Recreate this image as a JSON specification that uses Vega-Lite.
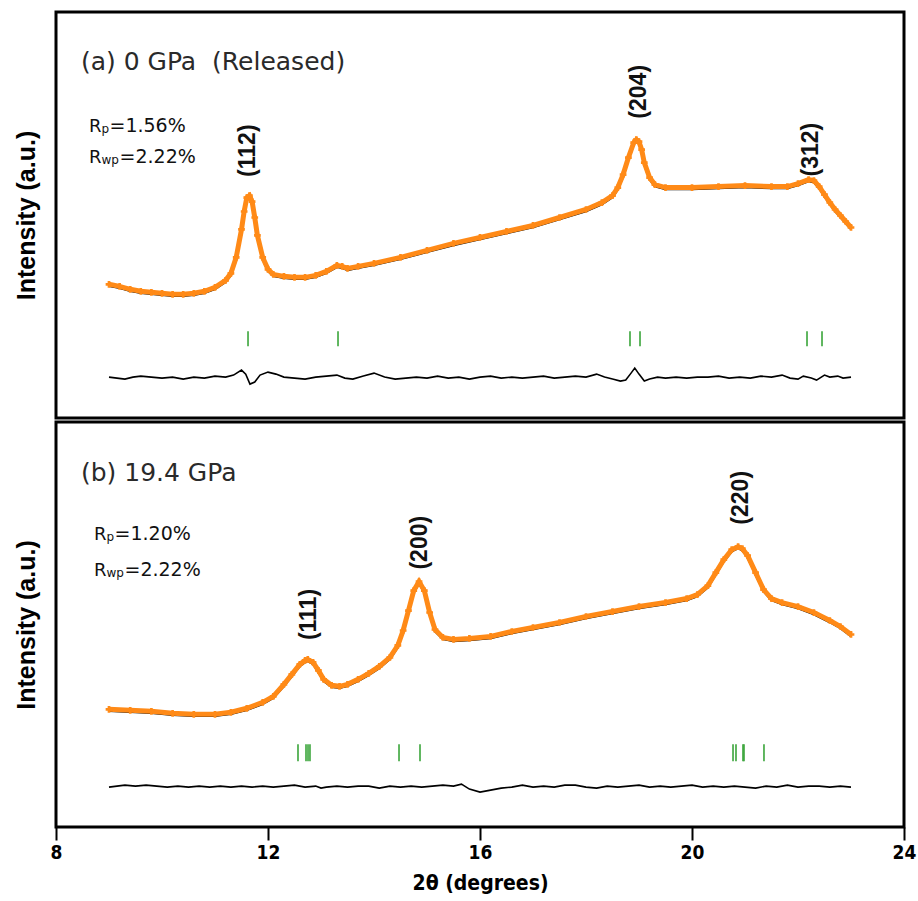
{
  "$schema": "https://vega.github.io/schema/vega-lite/v6.json",
  "background": "white",
  "padding": {"left": 12, "top": 10, "right": 12, "bottom": 5},
  "spacing": 0,
  "config": {
    "view": {"stroke": "black", "strokeWidth": 3},
    "font": "Liberation Sans",
    "axis": {"grid": false},
    "axisY": {"labels": false, "ticks": false, "domain": false, "titleFontSize": 25, "titleFontWeight": "bold", "titleFont": "Liberation Sans", "titleColor": "black", "titlePadding": 17}
  },
  "datasets": {
    "a_obs": [
      {"x": 9.0, "y": 134}, {"x": 9.2, "y": 132}, {"x": 9.4, "y": 129}, {"x": 9.6, "y": 127}, {"x": 9.8, "y": 126},
      {"x": 10.0, "y": 125}, {"x": 10.2, "y": 124}, {"x": 10.4, "y": 124}, {"x": 10.6, "y": 125}, {"x": 10.8, "y": 127},
      {"x": 11.0, "y": 131}, {"x": 11.2, "y": 138}, {"x": 11.3, "y": 145}, {"x": 11.4, "y": 161}, {"x": 11.5, "y": 189},
      {"x": 11.55, "y": 207}, {"x": 11.6, "y": 221}, {"x": 11.65, "y": 223}, {"x": 11.7, "y": 217}, {"x": 11.75, "y": 201},
      {"x": 11.8, "y": 183}, {"x": 11.9, "y": 161}, {"x": 12.0, "y": 149}, {"x": 12.1, "y": 144}, {"x": 12.3, "y": 142},
      {"x": 12.5, "y": 141}, {"x": 12.7, "y": 141}, {"x": 12.9, "y": 143}, {"x": 13.1, "y": 147}, {"x": 13.3, "y": 153},
      {"x": 13.4, "y": 152}, {"x": 13.5, "y": 150}, {"x": 13.7, "y": 152}, {"x": 14.0, "y": 155}, {"x": 14.5, "y": 161},
      {"x": 15.0, "y": 168}, {"x": 15.5, "y": 175}, {"x": 16.0, "y": 181}, {"x": 16.5, "y": 187}, {"x": 17.0, "y": 193},
      {"x": 17.5, "y": 201}, {"x": 18.0, "y": 209}, {"x": 18.3, "y": 216}, {"x": 18.5, "y": 223}, {"x": 18.6, "y": 231},
      {"x": 18.7, "y": 244}, {"x": 18.8, "y": 261}, {"x": 18.9, "y": 276}, {"x": 18.95, "y": 279}, {"x": 19.0, "y": 277},
      {"x": 19.05, "y": 269}, {"x": 19.1, "y": 256}, {"x": 19.2, "y": 241}, {"x": 19.3, "y": 234}, {"x": 19.5, "y": 231},
      {"x": 20.0, "y": 231}, {"x": 20.5, "y": 232}, {"x": 21.0, "y": 233}, {"x": 21.5, "y": 232}, {"x": 21.8, "y": 232},
      {"x": 22.0, "y": 235}, {"x": 22.2, "y": 239}, {"x": 22.3, "y": 238}, {"x": 22.4, "y": 232}, {"x": 22.5, "y": 224},
      {"x": 22.6, "y": 216}, {"x": 22.7, "y": 209}, {"x": 22.8, "y": 203}, {"x": 22.9, "y": 197}, {"x": 23.0, "y": 191}
    ],
    "a_diff": [
      {"x": 9.0, "y": 41}, {"x": 9.15, "y": 40}, {"x": 9.3, "y": 39}, {"x": 9.45, "y": 41}, {"x": 9.6, "y": 42},
      {"x": 9.8, "y": 41}, {"x": 10.0, "y": 40}, {"x": 10.2, "y": 41}, {"x": 10.4, "y": 39}, {"x": 10.6, "y": 41},
      {"x": 10.8, "y": 40}, {"x": 11.0, "y": 42}, {"x": 11.2, "y": 41}, {"x": 11.35, "y": 43}, {"x": 11.5, "y": 48},
      {"x": 11.58, "y": 44}, {"x": 11.66, "y": 34}, {"x": 11.75, "y": 36}, {"x": 11.85, "y": 43}, {"x": 12.0, "y": 46},
      {"x": 12.15, "y": 44}, {"x": 12.3, "y": 41}, {"x": 12.5, "y": 40}, {"x": 12.7, "y": 39}, {"x": 12.9, "y": 41},
      {"x": 13.1, "y": 42}, {"x": 13.3, "y": 43}, {"x": 13.45, "y": 40}, {"x": 13.6, "y": 39}, {"x": 13.8, "y": 42},
      {"x": 14.0, "y": 45}, {"x": 14.2, "y": 41}, {"x": 14.4, "y": 39}, {"x": 14.6, "y": 40}, {"x": 14.8, "y": 41},
      {"x": 15.0, "y": 40}, {"x": 15.2, "y": 42}, {"x": 15.4, "y": 40}, {"x": 15.6, "y": 41}, {"x": 15.8, "y": 39},
      {"x": 16.0, "y": 41}, {"x": 16.2, "y": 42}, {"x": 16.4, "y": 40}, {"x": 16.6, "y": 41}, {"x": 16.8, "y": 40},
      {"x": 17.0, "y": 41}, {"x": 17.2, "y": 42}, {"x": 17.4, "y": 40}, {"x": 17.6, "y": 41}, {"x": 17.8, "y": 42},
      {"x": 18.0, "y": 41}, {"x": 18.2, "y": 44}, {"x": 18.35, "y": 41}, {"x": 18.5, "y": 39}, {"x": 18.65, "y": 37},
      {"x": 18.75, "y": 38}, {"x": 18.85, "y": 45}, {"x": 18.92, "y": 50}, {"x": 19.0, "y": 44}, {"x": 19.1, "y": 37},
      {"x": 19.2, "y": 39}, {"x": 19.35, "y": 41}, {"x": 19.5, "y": 40}, {"x": 19.7, "y": 41}, {"x": 19.9, "y": 40},
      {"x": 20.1, "y": 41}, {"x": 20.3, "y": 41}, {"x": 20.5, "y": 42}, {"x": 20.7, "y": 40}, {"x": 20.9, "y": 41},
      {"x": 21.1, "y": 40}, {"x": 21.3, "y": 42}, {"x": 21.5, "y": 41}, {"x": 21.7, "y": 43}, {"x": 21.85, "y": 40},
      {"x": 22.0, "y": 39}, {"x": 22.1, "y": 42}, {"x": 22.25, "y": 40}, {"x": 22.35, "y": 38}, {"x": 22.5, "y": 43},
      {"x": 22.6, "y": 41}, {"x": 22.75, "y": 42}, {"x": 22.85, "y": 40}, {"x": 23.0, "y": 41}
    ],
    "a_ticks": [
      {"x": 11.623}, {"x": 13.321}, {"x": 18.83}, {"x": 19.019}, {"x": 22.17}, {"x": 22.453}
    ],
    "a_title": [{"x": 8.47, "y": 357, "label": "(a) 0 GPa\u00a0 (Released)"}],
    "a_R": [{"x": 8.623, "y": 287, "label": "R"}, {"x": 8.623, "y": 256, "label": "R"}],
    "a_sub": [{"x": 8.858, "y": 287, "label": "p"}, {"x": 8.858, "y": 256, "label": "wp"}],
    "a_val": [{"x": 9.009, "y": 287, "label": "=1.56%"}, {"x": 9.198, "y": 256, "label": "=2.22%"}],
    "a_peaks": [
      {"x": 11.623, "y": 268, "label": "(112)"},
      {"x": 19.0, "y": 327, "label": "(204)"},
      {"x": 22.245, "y": 269, "label": "(312)"}
    ],
    "b_obs": [
      {"x": 9.0, "y": 118}, {"x": 9.4, "y": 117}, {"x": 9.8, "y": 116}, {"x": 10.2, "y": 114}, {"x": 10.6, "y": 113},
      {"x": 11.0, "y": 113}, {"x": 11.3, "y": 115}, {"x": 11.6, "y": 119}, {"x": 11.9, "y": 125}, {"x": 12.1, "y": 131},
      {"x": 12.3, "y": 143}, {"x": 12.45, "y": 153}, {"x": 12.6, "y": 163}, {"x": 12.7, "y": 167}, {"x": 12.75, "y": 168},
      {"x": 12.85, "y": 165}, {"x": 12.95, "y": 157}, {"x": 13.05, "y": 148}, {"x": 13.2, "y": 142}, {"x": 13.35, "y": 141},
      {"x": 13.5, "y": 143}, {"x": 13.7, "y": 148}, {"x": 13.9, "y": 154}, {"x": 14.1, "y": 161}, {"x": 14.3, "y": 170},
      {"x": 14.45, "y": 182}, {"x": 14.55, "y": 197}, {"x": 14.65, "y": 217}, {"x": 14.75, "y": 237}, {"x": 14.85, "y": 246},
      {"x": 14.95, "y": 237}, {"x": 15.05, "y": 215}, {"x": 15.15, "y": 198}, {"x": 15.3, "y": 190}, {"x": 15.5, "y": 188},
      {"x": 15.8, "y": 189}, {"x": 16.2, "y": 191}, {"x": 16.6, "y": 196}, {"x": 17.0, "y": 200}, {"x": 17.5, "y": 205},
      {"x": 18.0, "y": 211}, {"x": 18.5, "y": 216}, {"x": 19.0, "y": 221}, {"x": 19.5, "y": 225}, {"x": 19.9, "y": 229},
      {"x": 20.1, "y": 233}, {"x": 20.3, "y": 242}, {"x": 20.45, "y": 255}, {"x": 20.6, "y": 268}, {"x": 20.75, "y": 278},
      {"x": 20.87, "y": 281}, {"x": 20.95, "y": 279}, {"x": 21.05, "y": 272}, {"x": 21.2, "y": 255}, {"x": 21.35, "y": 238},
      {"x": 21.5, "y": 229}, {"x": 21.7, "y": 225}, {"x": 22.0, "y": 221}, {"x": 22.3, "y": 215}, {"x": 22.6, "y": 207},
      {"x": 22.8, "y": 201}, {"x": 23.0, "y": 193}
    ],
    "b_diff": [
      {"x": 9.0, "y": 40}, {"x": 9.15, "y": 41}, {"x": 9.3, "y": 42}, {"x": 9.5, "y": 41}, {"x": 9.7, "y": 42},
      {"x": 9.9, "y": 41}, {"x": 10.1, "y": 40}, {"x": 10.3, "y": 41}, {"x": 10.5, "y": 40}, {"x": 10.7, "y": 41},
      {"x": 10.9, "y": 40}, {"x": 11.1, "y": 41}, {"x": 11.3, "y": 40}, {"x": 11.5, "y": 41}, {"x": 11.7, "y": 40},
      {"x": 11.9, "y": 41}, {"x": 12.1, "y": 40}, {"x": 12.3, "y": 41}, {"x": 12.5, "y": 42}, {"x": 12.7, "y": 40},
      {"x": 12.9, "y": 41}, {"x": 13.0, "y": 39}, {"x": 13.1, "y": 40}, {"x": 13.3, "y": 41}, {"x": 13.5, "y": 40},
      {"x": 13.7, "y": 41}, {"x": 13.9, "y": 41}, {"x": 14.0, "y": 40}, {"x": 14.1, "y": 39}, {"x": 14.3, "y": 41},
      {"x": 14.5, "y": 40}, {"x": 14.7, "y": 41}, {"x": 14.9, "y": 40}, {"x": 15.1, "y": 41}, {"x": 15.3, "y": 42},
      {"x": 15.5, "y": 41}, {"x": 15.65, "y": 43}, {"x": 15.8, "y": 38}, {"x": 16.0, "y": 35}, {"x": 16.2, "y": 37},
      {"x": 16.4, "y": 39}, {"x": 16.6, "y": 40}, {"x": 16.8, "y": 42}, {"x": 17.0, "y": 40}, {"x": 17.2, "y": 41},
      {"x": 17.4, "y": 40}, {"x": 17.6, "y": 42}, {"x": 17.8, "y": 42}, {"x": 18.0, "y": 40}, {"x": 18.2, "y": 39},
      {"x": 18.4, "y": 41}, {"x": 18.6, "y": 40}, {"x": 18.8, "y": 41}, {"x": 19.0, "y": 42}, {"x": 19.2, "y": 40},
      {"x": 19.4, "y": 41}, {"x": 19.6, "y": 40}, {"x": 19.8, "y": 41}, {"x": 20.0, "y": 42}, {"x": 20.2, "y": 40},
      {"x": 20.4, "y": 41}, {"x": 20.6, "y": 40}, {"x": 20.8, "y": 41}, {"x": 21.0, "y": 40}, {"x": 21.2, "y": 39},
      {"x": 21.4, "y": 41}, {"x": 21.6, "y": 40}, {"x": 21.8, "y": 42}, {"x": 22.0, "y": 40}, {"x": 22.2, "y": 41},
      {"x": 22.4, "y": 41}, {"x": 22.6, "y": 40}, {"x": 22.8, "y": 41}, {"x": 23.0, "y": 40}
    ],
    "b_ticks": [
      {"x": 12.566}, {"x": 12.717}, {"x": 12.755}, {"x": 12.792}, {"x": 14.472}, {"x": 14.868},
      {"x": 20.774}, {"x": 20.83}, {"x": 20.962}, {"x": 20.981}, {"x": 21.358}
    ],
    "b_title": [{"x": 8.47, "y": 355, "label": "(b) 19.4 GPa"}],
    "b_R": [{"x": 8.717, "y": 288, "label": "R"}, {"x": 8.717, "y": 252, "label": "R"}],
    "b_sub": [{"x": 8.953, "y": 288, "label": "p"}, {"x": 8.953, "y": 252, "label": "wp"}],
    "b_val": [{"x": 9.104, "y": 288, "label": "=1.20%"}, {"x": 9.292, "y": 252, "label": "=2.22%"}],
    "b_peaks": [
      {"x": 12.774, "y": 213, "label": "(111)"},
      {"x": 14.868, "y": 285, "label": "(200)"},
      {"x": 20.925, "y": 330, "label": "(220)"}
    ]
  },
  "vconcat": [
    {
      "width": 848,
      "height": 406,
      "encoding": {
        "x": {"field": "x", "type": "quantitative", "scale": {"domain": [8, 24], "nice": false, "zero": false}, "axis": null}
      },
      "layer": [
        {"data": {"name": "a_obs"}, "mark": {"type": "line", "color": "black", "strokeWidth": 2.5, "yOffset": 1.5},
         "encoding": {"y": {"field": "y", "type": "quantitative", "scale": {"domain": [0, 407], "nice": false, "zero": false}, "axis": {"title": "Intensity (a.u.)"}}}},
        {"data": {"name": "a_obs"}, "mark": {"type": "line", "color": "#ff8a17", "strokeWidth": 5},
         "encoding": {"y": {"field": "y", "type": "quantitative"}}},
        {"data": {"name": "a_obs"}, "mark": {"type": "point", "shape": "cross", "filled": true, "color": "#ff8a17", "size": 45, "opacity": 1},
         "encoding": {"y": {"field": "y", "type": "quantitative"}}},
        {"data": {"name": "a_diff"}, "mark": {"type": "line", "color": "black", "strokeWidth": 1.6},
         "encoding": {"y": {"field": "y", "type": "quantitative"}}},
        {"data": {"name": "a_ticks"}, "mark": {"type": "rule", "color": "#3aa53a", "strokeWidth": 1.6},
         "encoding": {"y": {"datum": 72, "type": "quantitative"}, "y2": {"datum": 87}}},
        {"data": {"name": "a_title"}, "mark": {"type": "text", "align": "left", "baseline": "middle", "font": "DejaVu Sans", "fontSize": 25, "color": "#2a2a2a"},
         "encoding": {"y": {"field": "y", "type": "quantitative"}, "text": {"field": "label"}}},
        {"data": {"name": "a_R"}, "mark": {"type": "text", "align": "left", "baseline": "alphabetic", "font": "DejaVu Sans", "fontSize": 18, "color": "#111"},
         "encoding": {"y": {"field": "y", "type": "quantitative"}, "text": {"field": "label"}}},
        {"data": {"name": "a_sub"}, "mark": {"type": "text", "align": "left", "baseline": "alphabetic", "font": "DejaVu Sans", "fontSize": 12, "color": "#111", "dy": 1},
         "encoding": {"y": {"field": "y", "type": "quantitative"}, "text": {"field": "label"}}},
        {"data": {"name": "a_val"}, "mark": {"type": "text", "align": "left", "baseline": "alphabetic", "font": "DejaVu Sans", "fontSize": 19, "color": "#111"},
         "encoding": {"y": {"field": "y", "type": "quantitative"}, "text": {"field": "label"}}},
        {"data": {"name": "a_peaks"}, "mark": {"type": "text", "align": "center", "baseline": "middle", "angle": 270, "font": "Liberation Sans", "fontWeight": "bold", "fontSize": 23, "color": "#111"},
         "encoding": {"y": {"field": "y", "type": "quantitative"}, "text": {"field": "label"}}}
      ]
    },
    {
      "width": 848,
      "height": 405,
      "encoding": {
        "x": {"field": "x", "type": "quantitative", "scale": {"domain": [8, 24], "nice": false, "zero": false},
              "axis": {"title": "2θ (degrees)", "values": [8, 12, 16, 20, 24], "domain": false, "ticks": true, "tickSize": 13, "tickWidth": 2, "tickColor": "black",
                       "labelFlush": false, "labelOverlap": false,
                       "labelFont": "DejaVu Sans Condensed, Liberation Sans", "labelFontSize": 19, "labelFontWeight": "bold", "labelColor": "black", "labelPadding": 3,
                       "titleFont": "DejaVu Sans Condensed, Liberation Sans", "titleFontSize": 21, "titleFontWeight": "bold", "titleColor": "black", "titlePadding": 10}}
      },
      "layer": [
        {"data": {"name": "b_obs"}, "mark": {"type": "line", "color": "black", "strokeWidth": 2.5, "yOffset": 1.5},
         "encoding": {"y": {"field": "y", "type": "quantitative", "scale": {"domain": [0, 406], "nice": false, "zero": false}, "axis": {"title": "Intensity (a.u.)"}}}},
        {"data": {"name": "b_obs"}, "mark": {"type": "line", "color": "#ff8a17", "strokeWidth": 5},
         "encoding": {"y": {"field": "y", "type": "quantitative"}}},
        {"data": {"name": "b_obs"}, "mark": {"type": "point", "shape": "cross", "filled": true, "color": "#ff8a17", "size": 45, "opacity": 1},
         "encoding": {"y": {"field": "y", "type": "quantitative"}}},
        {"data": {"name": "b_diff"}, "mark": {"type": "line", "color": "black", "strokeWidth": 1.6},
         "encoding": {"y": {"field": "y", "type": "quantitative"}}},
        {"data": {"name": "b_ticks"}, "mark": {"type": "rule", "color": "#3aa53a", "strokeWidth": 1.6},
         "encoding": {"y": {"datum": 66, "type": "quantitative"}, "y2": {"datum": 83}}},
        {"data": {"name": "b_title"}, "mark": {"type": "text", "align": "left", "baseline": "middle", "font": "DejaVu Sans", "fontSize": 25, "color": "#2a2a2a"},
         "encoding": {"y": {"field": "y", "type": "quantitative"}, "text": {"field": "label"}}},
        {"data": {"name": "b_R"}, "mark": {"type": "text", "align": "left", "baseline": "alphabetic", "font": "DejaVu Sans", "fontSize": 18, "color": "#111"},
         "encoding": {"y": {"field": "y", "type": "quantitative"}, "text": {"field": "label"}}},
        {"data": {"name": "b_sub"}, "mark": {"type": "text", "align": "left", "baseline": "alphabetic", "font": "DejaVu Sans", "fontSize": 12, "color": "#111", "dy": 1},
         "encoding": {"y": {"field": "y", "type": "quantitative"}, "text": {"field": "label"}}},
        {"data": {"name": "b_val"}, "mark": {"type": "text", "align": "left", "baseline": "alphabetic", "font": "DejaVu Sans", "fontSize": 19, "color": "#111"},
         "encoding": {"y": {"field": "y", "type": "quantitative"}, "text": {"field": "label"}}},
        {"data": {"name": "b_peaks"}, "mark": {"type": "text", "align": "center", "baseline": "middle", "angle": 270, "font": "Liberation Sans", "fontWeight": "bold", "fontSize": 23, "color": "#111"},
         "encoding": {"y": {"field": "y", "type": "quantitative"}, "text": {"field": "label"}}}
      ]
    }
  ]
}
